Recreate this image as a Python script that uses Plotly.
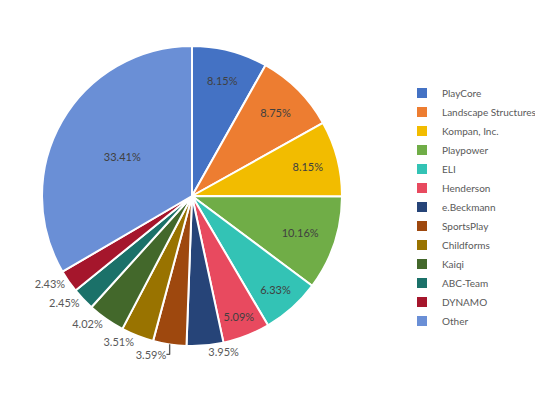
import plotly.graph_objects as go

labels = ["PlayCore", "Landscape Structures", "Kompan, Inc.", "Playpower", "ELI", "Henderson",
          "e.Beckmann", "SportsPlay", "Childforms", "Kaiqi", "ABC-Team", "DYNAMO", "Other"]
values = [8.15, 8.75, 8.15, 10.16, 6.33, 5.09, 3.95, 3.59, 3.51, 4.02, 2.45, 2.43, 33.41]
colors = ["#4472C4", "#ED7D31", "#F2BC00", "#70AD47", "#33C3B5", "#E84A5F",
          "#264478", "#9E480E", "#997300", "#43682B", "#1B7169", "#A5162C", "#6A8FD6"]
positions = ["inside"] * 6 + ["outside"] * 6 + ["inside"]

W, H = 543, 398
MR = 149
PW = W - MR
x0, x1, ytop, ybot = 34, 334, 38, 338

fig = go.Figure(go.Pie(
    labels=labels,
    values=values,
    sort=False,
    direction="clockwise",
    rotation=0,
    marker=dict(colors=colors, line=dict(color="white", width=2)),
    texttemplate="%{value:.2f}%",
    textposition=positions,
    insidetextorientation="horizontal",
    textfont=dict(family="Lato, sans-serif", size=11, color="#404040"),
    outsidetextfont=dict(family="Lato, sans-serif", size=11, color="#595959"),
    hoverinfo="label+value",
    domain=dict(x=[x0 / PW, x1 / PW], y=[(H - ybot) / H, (H - ytop) / H]),
))

fig.update_layout(
    width=W, height=H,
    margin=dict(l=0, r=MR, t=0, b=0, autoexpand=False),
    paper_bgcolor="white",
    showlegend=True,
    legend=dict(x=1.0, y=0.5, xanchor="left", yanchor="middle",
                font=dict(family="Lato, sans-serif", size=10, color="#595959"),
                itemwidth=30, tracegroupgap=0),
)

fig.write_html("out.html")
